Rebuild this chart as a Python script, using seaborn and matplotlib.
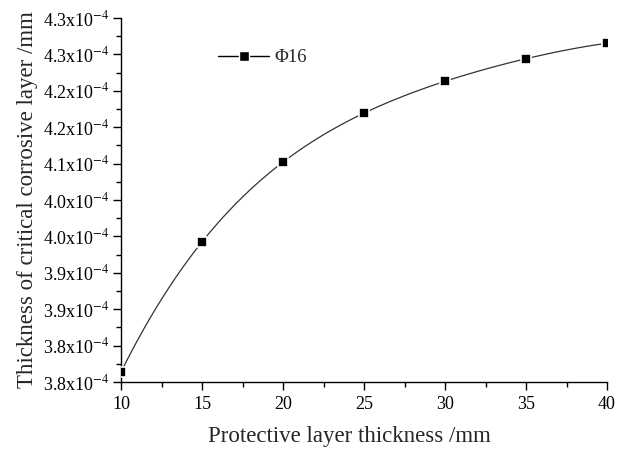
import numpy as np
import pandas as pd
import seaborn as sns
import matplotlib
matplotlib.use('Agg')
import matplotlib.pyplot as plt
from matplotlib.lines import Line2D
from matplotlib.ticker import FixedLocator, MultipleLocator

# Data (thickness in units of 1e-4 mm)
cover_mm = [10, 15, 20, 25, 30, 35, 40]
critical_thk = [3.785, 3.982, 4.102, 4.176, 4.225, 4.258, 4.282]
series_name = 'Φ16'

y_ticks = [3.77, 3.825, 3.88, 3.935, 3.99, 4.045, 4.10, 4.155, 4.21, 4.265, 4.32]
y_tick_labels = ['3.8', '3.8', '3.9', '3.9', '4.0', '4.0', '4.1', '4.2', '4.2', '4.3', '4.3']
x_ticks = [10, 15, 20, 25, 30, 35, 40]

df = pd.DataFrame({'cover': cover_mm, 'thk': critical_thk})

sns.set_style('ticks')
plt.rcParams['font.family'] = ['Liberation Serif', 'DejaVu Serif']
plt.rcParams['mathtext.fontset'] = 'stix'

fig = plt.figure(figsize=(6.18, 4.5), dpi=100)
ax = fig.add_axes([0.1958, 0.1511, 0.7864, 0.8089])

# smooth connecting curve
sns.regplot(data=df, x='cover', y='thk', order=4, ci=None, scatter=False,
            truncate=True, ax=ax, line_kws=dict(color='#333333', lw=0.9))
sns.scatterplot(data=df, x='cover', y='thk', marker='s', s=60, color='black',
                edgecolor='white', linewidth=1.2, ax=ax, zorder=3)

ax.set_xlim(10, 40)
ax.set_ylim(3.77, 4.32)
ax.xaxis.set_major_locator(FixedLocator(x_ticks))
ax.xaxis.set_minor_locator(MultipleLocator(2.5))
ax.set_xticklabels([str(t) for t in x_ticks])
ax.yaxis.set_major_locator(FixedLocator(y_ticks))
ax.yaxis.set_minor_locator(FixedLocator([t + 0.0275 for t in y_ticks[:-1]]))
ax.set_yticklabels([lab + 'x10$^{-4}$' for lab in y_tick_labels])

ax.tick_params(which='major', direction='out', length=6, width=1, labelsize=13,
               colors='black', pad=2)
ax.tick_params(which='minor', direction='out', length=3.5, width=1, colors='black')
ax.tick_params(axis='x', pad=4)
for s in ['top', 'right']:
    ax.spines[s].set_visible(False)
for s in ['left', 'bottom']:
    ax.spines[s].set_linewidth(1)
    ax.spines[s].set_color('black')

ax.set_xlabel('Protective layer thickness /mm', fontsize=16.5)
ax.xaxis.set_label_coords(0.471, -0.12)
ax.set_ylabel('Thickness of critical corrosive layer /mm', fontsize=16.5, labelpad=4)

handle = Line2D([], [], color='black', lw=1, marker='s', markersize=7,
                markerfacecolor='black', markeredgecolor='white', markeredgewidth=1)
ax.legend([handle], [series_name], loc='upper left', bbox_to_anchor=(0.2, 0.915),
          frameon=False, fontsize=13.5, handlelength=2.7, handletextpad=0.3,
          borderpad=0, borderaxespad=0)

fig.savefig('out.png', dpi=100)
